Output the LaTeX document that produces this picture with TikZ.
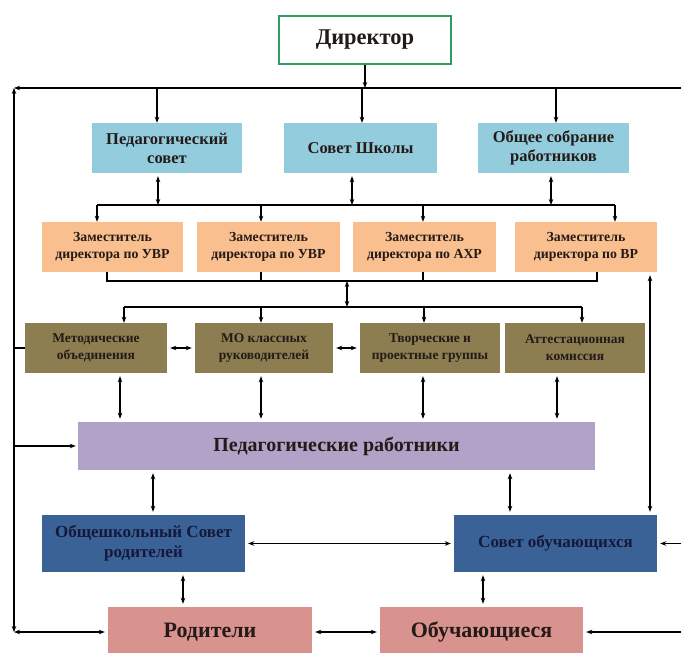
\documentclass[tikz,border=0pt]{standalone}
\usepackage{fontspec}
\setmainfont{Liberation Serif}
\usetikzlibrary{arrows.meta}
\definecolor{dgreen}{HTML}{2E9D5D}
\definecolor{lblue}{HTML}{93CDDD}
\definecolor{orng}{HTML}{F9BF8E}
\definecolor{olive}{HTML}{8C7E50}
\definecolor{lav}{HTML}{B3A2C7}
\definecolor{dblue}{HTML}{3A6296}
\definecolor{pnk}{HTML}{D9938F}
\definecolor{txt}{HTML}{241A18}
\definecolor{navytxt}{HTML}{15183A}
\begin{document}
\begin{tikzpicture}[x=1pt,y=-1pt,
  ln/.style={line width=1.1pt, draw=black},
  arr/.style={ln, -{Stealth[length=6pt,width=4.5pt]}},
  dbl/.style={ln, {Stealth[length=6pt,width=4.5pt]}-{Stealth[length=6pt,width=4.5pt]}},
  sh/.style={shorten <=3pt, shorten >=3pt},
  box/.style={inner sep=0pt, align=center, font=\bfseries, text=txt, minimum height=50pt},
  bl/.style={box, fill=lblue, font=\bfseries\fontsize{16.5}{19}\selectfont},
  zam/.style={box, fill=orng, font=\bfseries\fontsize{13.8}{17}\selectfont},
  ol/.style={box, fill=olive, font=\bfseries\fontsize{13.5}{17}\selectfont},
  db/.style={box, fill=dblue, text=navytxt, font=\bfseries\fontsize{17}{20}\selectfont, minimum height=57pt},
  pk/.style={box, fill=pnk, text=txt, font=\bfseries\fontsize{22}{24}\selectfont}
]
\useasboundingbox (0,0) rectangle (681,653);
\clip (0,0) rectangle (681,653);
\fill[white] (0,0) rectangle (681,653);

% nodes
\node[box, draw=dgreen, line width=2.5pt, fill=white, minimum width=172pt, minimum height=48pt,
  font=\bfseries\fontsize{22.5}{24}\selectfont] (dir) at (365,40) {Директор};

\node[bl, minimum width=150pt] (ps) at (167,148) {Педагогический\\совет};
\node[bl, minimum width=153pt] (ss) at (360.5,148) {Совет Школы};
\node[bl, minimum width=151pt] (os) at (553.5,148) {Общее собрание\\работников};

\node[zam, minimum width=141pt] (z1) at (112.5,247) {Заместитель\\директора по УВР};
\node[zam, minimum width=143pt] (z2) at (268.5,247) {Заместитель\\директора по УВР};
\node[zam, minimum width=143pt] (z3) at (424.5,247) {Заместитель\\директора по АХР};
\node[zam, minimum width=142pt] (z4) at (586,247) {Заместитель\\директора по ВР};

\node[ol, minimum width=142pt] (m1) at (96,348) {Методические\\объединения};
\node[ol, minimum width=138pt] (m2) at (264,348) {МО классных\\руководителей};
\node[ol, minimum width=140pt] (m3) at (430,348) {Творческие и\\проектные группы};
\node[ol, minimum width=140pt] (m4) at (575,348) {Аттестационная\\комиссия};

\node[box, fill=lav, minimum width=517pt, minimum height=48pt,
  font=\bfseries\fontsize{20}{22}\selectfont] (pr) at (336.5,446) {Педагогические работники};

\node[db, minimum width=203pt] (rs) at (143.5,543.5) {Общешкольный Совет\\родителей};
\node[db, minimum width=203pt] (so) at (555.5,543.5) {Совет обучающихся};

\node[pk, minimum width=204pt] (rod) at (210,632) {Родители};
\node[pk, minimum width=203pt] (ob) at (481.5,632) {Обучающиеся};

% frame coordinates
\coordinate (TL) at (14,88);
\coordinate (TR) at (681,88);
\coordinate (BL) at (14,632);
\coordinate (BR) at (681,632);
\coordinate (RM) at (681,543.5);

\draw[arr] (dir.south) -- (dir.south |- TL);
\draw[arr] (TR) -- (TL);
\draw[dbl] (TL) -- (BL);
\draw[dbl, shorten >=3pt] (BL) -- (rod.west);
\draw[arr, shorten >=3pt] (BR) -- (ob.east);
\draw[arr, shorten >=3pt] (RM) -- (so.east);

% row 2 drops
\coordinate (t1) at (157,88);
\coordinate (t2) at (362,88);
\coordinate (t3) at (556,88);
\draw[arr] (t1) -- (t1 |- ps.north);
\draw[arr] (t2) -- (t2 |- ss.north);
\draw[arr] (t3) -- (t3 |- os.north);

% bus 1
\coordinate (d1) at (97,205);
\coordinate (d2) at (261,205);
\coordinate (d3) at (423,205);
\coordinate (d4) at (615,205);
\draw[ln] (d1) -- (d4);
\coordinate (u1) at (158,205);
\coordinate (u2) at (352,205);
\coordinate (u3) at (551,205);
\draw[dbl, shorten <=3pt] (u1 |- ps.south) -- (u1);
\draw[dbl, shorten <=3pt] (u2 |- ss.south) -- (u2);
\draw[dbl, shorten <=3pt] (u3 |- os.south) -- (u3);
\draw[arr] (d1) -- (d1 |- z1.north);
\draw[arr] (d2) -- (d2 |- z2.north);
\draw[arr] (d3) -- (d3 |- z3.north);
\draw[arr] (d4) -- (d4 |- z4.north);

% bus 2
\coordinate (e1) at (107,281);
\coordinate (e2) at (261,281);
\coordinate (e3) at (423,281);
\coordinate (e4) at (597,281);
\draw[ln] (e1 |- z1.south) -- (e1) -- (e4) -- (e4 |- z4.south);
\draw[ln] (e2 |- z2.south) -- (e2);
\draw[ln] (e3 |- z3.south) -- (e3);

% bus 3
\coordinate (f1) at (347,281);
\coordinate (f2) at (347,307);
\draw[dbl] (f1) -- (f2);
\coordinate (g1) at (124,307);
\coordinate (g2) at (261,307);
\coordinate (g3) at (424,307);
\coordinate (g4) at (582,307);
\draw[ln] (g1) -- (g4);
\draw[arr] (g1) -- (g1 |- m1.north);
\draw[arr] (g2) -- (g2 |- m2.north);
\draw[arr] (g3) -- (g3 |- m3.north);
\draw[arr] (g4) -- (g4 |- m4.north);

\draw[dbl, sh] (m1.east) -- (m2.west);
\draw[dbl, sh] (m2.east) -- (m3.west);
\draw[ln] (TL |- m1.west) -- (m1.west);

% row 4 -> pr
\coordinate (h1) at (120,400);
\coordinate (h2) at (261,400);
\coordinate (h3) at (423,400);
\coordinate (h4) at (557,400);
\draw[dbl, sh] (h1 |- m1.south) -- (h1 |- pr.north);
\draw[dbl, sh] (h2 |- m2.south) -- (h2 |- pr.north);
\draw[dbl, sh] (h3 |- m3.south) -- (h3 |- pr.north);
\draw[dbl, sh] (h4 |- m4.south) -- (h4 |- pr.north);
\draw[arr, shorten >=2pt] (TL |- pr.west) -- (pr.west);

% pr -> row 5
\coordinate (k1) at (153,490);
\coordinate (k2) at (510,490);
\coordinate (k3) at (650,490);
\draw[dbl, sh] (k1 |- pr.south) -- (k1 |- rs.north);
\draw[dbl, sh] (k2 |- pr.south) -- (k2 |- so.north);
\draw[dbl, sh] (k3 |- z4.south) -- (k3 |- so.north);
\draw[dbl, sh] (rs.east) -- (so.west);

% row 5 -> row 6
\coordinate (k4) at (183,590);
\coordinate (k5) at (483,590);
\draw[dbl, sh] (k4 |- rs.south) -- (k4 |- rod.north);
\draw[dbl, sh] (k5 |- so.south) -- (k5 |- ob.north);
\draw[dbl, sh] (rod.east) -- (ob.west);
\end{tikzpicture}
\end{document}
